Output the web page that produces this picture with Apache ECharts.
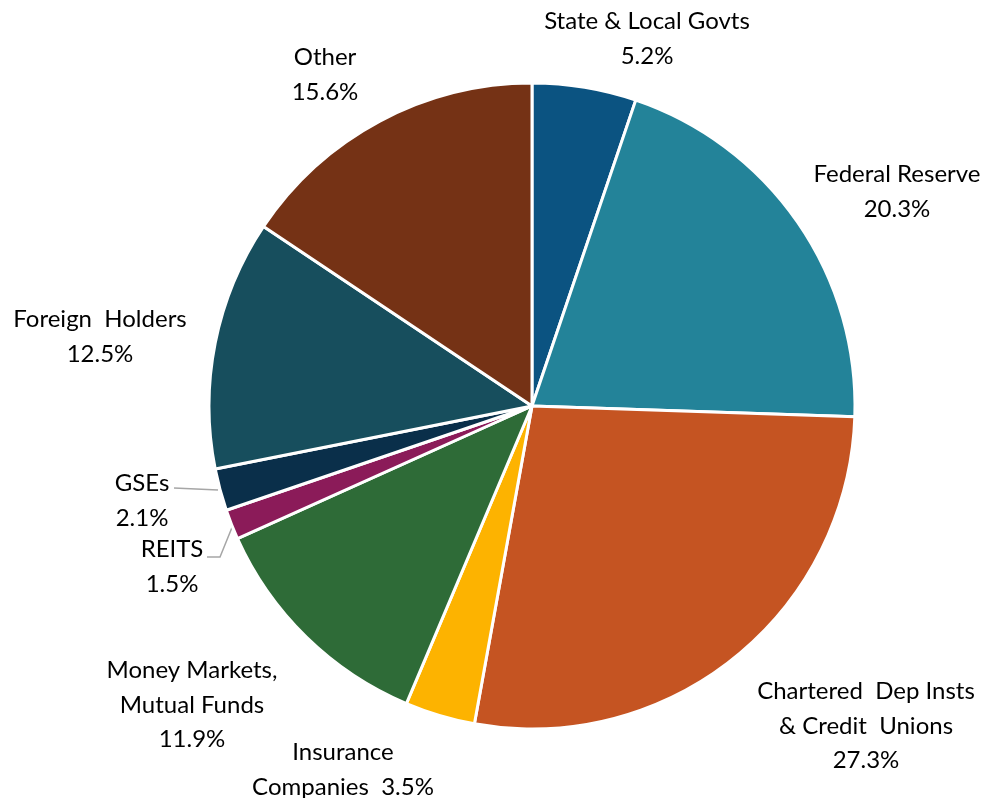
<!DOCTYPE html>
<html>
<head>
<meta charset="utf-8">
<script src="https://cdn.jsdelivr.net/npm/echarts@6/dist/echarts.min.js"></script>
<style>
  html, body { margin: 0; padding: 0; background: #fff; }
  #chart { width: 1002px; height: 798px; }
</style>
</head>
<body>
<div id="chart"></div>
<script>
// Holders of the debt, clockwise from 12 o'clock
const categories = [
  'State & Local Govts', 'Federal Reserve', 'Chartered Dep Insts & Credit Unions',
  'Insurance Companies', 'Money Markets, Mutual Funds', 'REITS', 'GSEs',
  'Foreign Holders', 'Other'
];
const shares = [5.2, 20.3, 27.3, 3.5, 11.9, 1.5, 2.1, 12.5, 15.6];
const labelNames = [
  'State & Local Govts', 'Federal Reserve', 'Chartered  Dep Insts\n& Credit  Unions',
  'Insurance\nCompanies  ', 'Money Markets,\nMutual Funds', 'REITS', 'GSEs',
  'Foreign  Holders', 'Other'
];
const colors = ['#0b5381', '#238399', '#c55422', '#fdb300', '#2e6b37', '#8b1b59', '#0a2f4a', '#174e5d', '#753215'];

// label anchor points (centre of each text block)
const labelSpots = [
  [647, 39], [897, 192], [866, 726], [343, 770], [192, 705],
  [172, 567], [142, 501], [100, 337], [325, 75]
];
const leaderLines = {
  5: [[233, 525], [220, 557], [207, 557]],
  6: [[218, 490], [196, 489], [174, 488]]
};

const chart = echarts.init(document.getElementById('chart'));
chart.setOption({
  animation: false,
  series: [{
    type: 'pie',
    center: [532, 406],
    radius: 323,
    startAngle: 90,
    clockwise: true,
    itemStyle: { borderColor: '#fff', borderWidth: 3 },
    data: categories.map((c, i) => ({
      name: c,
      value: shares[i],
      itemStyle: { color: colors[i] },
      labelLine: { show: !!leaderLines[i], lineStyle: { color: '#a6a6a6', width: 1.5 } }
    })),
    label: {
      show: true,
      position: 'outside',
      fontFamily: 'Lato',
      fontSize: 24,
      lineHeight: 34.5,
      color: '#000',
      align: 'center',
      overflow: 'none',
      formatter: p => {
        const i = p.dataIndex;
        const v = shares[i].toFixed(1) + '%';
        return i === 3 ? labelNames[i] + v : labelNames[i] + '\n' + v;
      }
    },
    labelLayout: p => {
      const i = p.dataIndex;
      const out = { x: labelSpots[i][0], y: labelSpots[i][1], align: 'center', verticalAlign: 'middle' };
      if (leaderLines[i]) out.labelLinePoints = leaderLines[i];
      return out;
    }
  }]
});
</script>
</body>
</html>
